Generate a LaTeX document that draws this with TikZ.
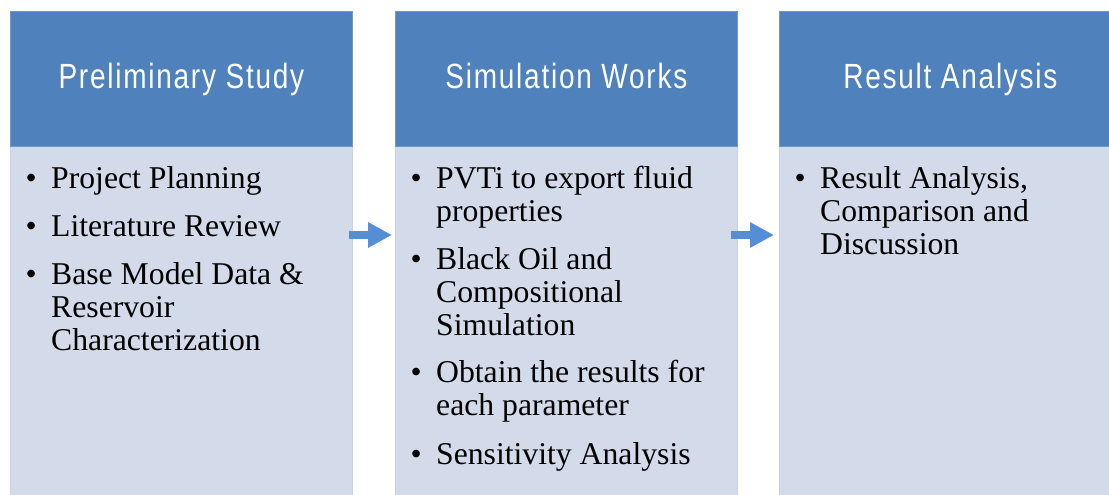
\documentclass[tikz,border=0pt]{standalone}
\usepackage{fontspec}
\setmainfont{Liberation Serif}
\newfontfamily\hdfont[FakeStretch=0.8,LetterSpace=5]{Liberation Sans}
\usetikzlibrary{arrows.meta}
\definecolor{hdblue}{HTML}{4F81BD}
\definecolor{hdedge}{HTML}{7399CB}
\definecolor{bodyfill}{HTML}{D3DAEA}
\definecolor{bodyedge}{HTML}{C8D1E6}
\definecolor{arrblue}{HTML}{558ED5}
\newcommand{\blt}{\makebox[22pt]{\textbullet}}
\tikzset{
  header/.style={rectangle, fill=hdblue, draw=hdedge, line width=0.8pt, minimum width=342pt, minimum height=135pt, anchor=north west, inner sep=0pt, text=white, text height=25pt, text depth=6pt, font=\hdfont\fontsize{35}{40}\selectfont},
  bodybox/.style={rectangle, fill=bodyfill, draw=bodyedge, line width=0.8pt, minimum width=342pt, minimum height=360pt, anchor=north west, inner sep=0pt},
  txt/.style={anchor=base west, inner sep=0pt, align=left, font=\fontsize{31.7}{33}\selectfont},
  flow/.style={draw=arrblue, line width=8pt, -{Triangle[length=24pt,width=24pt]}}
}
\begin{document}
\begin{tikzpicture}[x=1pt,y=-1pt]
\useasboundingbox (0,0) rectangle (1109,495);
% bodies
\node[bodybox] (b1) at (10,146) {};
\node[bodybox] (b2) at (395,146) {};
\node[bodybox] (b3) at (779,146) {};
% headers
\node[header] (h1) at (10,11) {Preliminary Study};
\node[header] (h2) at (395,11) {Simulation Works};
\node[header] (h3) at (779,11) {Result Analysis};
% texts
\node[txt] (t1) at (20,188) {\begin{tabular}[t]{@{}l@{\hspace{9pt}}l@{}}
\blt & Project Planning\\[15pt]
\blt & Literature Review\\[15pt]
\blt & Base Model Data \&\\
 & Reservoir\\
 & Characterization
\end{tabular}};
\node[txt] (t2) at (405,188) {\begin{tabular}[t]{@{}l@{\hspace{9pt}}l@{}}
\blt & PVTi to export fluid\\
 & properties\\[15pt]
\blt & Black Oil and\\
 & Compositional\\
 & Simulation\\[15pt]
\blt & Obtain the results for\\
 & each parameter\\[15pt]
\blt & Sensitivity Analysis
\end{tabular}};
\node[txt] (t3) at (789,188) {\begin{tabular}[t]{@{}l@{\hspace{9pt}}l@{}}
\blt & Result Analysis,\\
 & Comparison and\\
 & Discussion
\end{tabular}};
% arrows
\coordinate (ay) at (0,235);
\draw[flow] ([xshift=-4pt]b1.east |- ay) -- ([xshift=-3pt]b2.west |- ay);
\draw[flow] ([xshift=-7pt]b2.east |- ay) -- ([xshift=-5pt]b3.west |- ay);
\end{tikzpicture}
\end{document}
